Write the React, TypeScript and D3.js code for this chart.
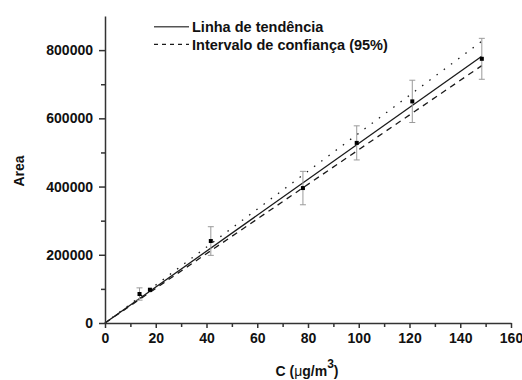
import { useEffect, useRef } from 'react'
import * as d3 from 'd3'

// measured points (concentration, area, error)
const concentrations = [13.6, 17.7, 41.7, 78.0, 99.2, 121.1, 148.5]
const areas = [85000, 97600, 240300, 395600, 528000, 649700, 774500]
const errors = [18000, 0, 42000, 49000, 50000, 62000, 60000]

// fitted lines, all through the origin
const lineEndC = 148.5
const trendEnd = 782000
const upperEnd = 826000
const lowerEnd = 754600

const xTicks = [0, 20, 40, 60, 80, 100, 120, 140, 160]
const yTicks = [0, 200000, 400000, 600000, 800000]

const legendLabels = ['Linha de tendência', 'Intervalo de confiança (95%)']

const W = 522
const H = 380
const FONT = '"Liberation Sans", Arial, sans-serif'

export default function App() {
  const ref = useRef<SVGSVGElement>(null)

  useEffect(() => {
    if (!ref.current) return
    const svg = d3.select(ref.current)
    svg.selectAll('*').remove()

    const left = 105
    const right = 511
    const bottom = 323
    const top = 16

    const x = d3.scaleLinear().domain([0, 160]).range([left, right])
    const y = d3.scaleLinear().domain([0, 900000]).range([bottom, top])

    const axisColor = '#333'

    // Fit lines
    const fits: { end: number; dash: string | null; width: number }[] = [
      { end: upperEnd, dash: '1.5,7.5', width: 1.3 },
      { end: lowerEnd, dash: '6,5', width: 1.3 },
      { end: trendEnd, dash: null, width: 1.3 },
    ]
    const line = d3.line<[number, number]>().x(d => x(d[0])).y(d => y(d[1]))
    fits.forEach(f => {
      svg.append('path')
        .datum([[0, 0], [lineEndC, f.end]] as [number, number][])
        .attr('fill', 'none')
        .attr('stroke', '#1a1a1a')
        .attr('stroke-width', f.width)
        .attr('stroke-dasharray', f.dash)
        .attr('d', line)
    })

    // Error bars
    const pts = concentrations.map((c, i) => ({ c, a: areas[i], e: errors[i] }))
    const eb = svg.append('g').attr('stroke', '#9a9a9a').attr('stroke-width', 1)
    pts.filter(p => p.e > 0).forEach(p => {
      const px = x(p.c)
      eb.append('line').attr('x1', px).attr('x2', px).attr('y1', y(p.a - p.e)).attr('y2', y(p.a + p.e))
      eb.append('line').attr('x1', px - 3).attr('x2', px + 3).attr('y1', y(p.a - p.e)).attr('y2', y(p.a - p.e))
      eb.append('line').attr('x1', px - 3).attr('x2', px + 3).attr('y1', y(p.a + p.e)).attr('y2', y(p.a + p.e))
    })

    // Points
    svg.append('g')
      .selectAll('rect')
      .data(pts)
      .join('rect')
      .attr('x', d => x(d.c) - 2)
      .attr('y', d => y(d.a) - 2)
      .attr('width', 4)
      .attr('height', 4)
      .attr('fill', '#000')

    const styleAxis = (g: d3.Selection<SVGGElement, unknown, null, undefined>) => {
      g.select('.domain').attr('stroke', axisColor).attr('stroke-width', 1.5)
      g.selectAll('.tick line').attr('stroke', axisColor).attr('stroke-width', 1.5)
      g.selectAll('.tick text')
        .attr('fill', '#111')
        .style('font-family', FONT)
        .style('font-weight', 'bold')
        .style('font-size', '14px')
    }

    // X axis minor + major
    const xg = svg.append('g').attr('transform', `translate(0,${bottom})`)
    xg.append('g')
      .call(d3.axisBottom(x).tickValues(d3.range(10, 160, 20)).tickSize(4).tickFormat(() => '').tickSizeOuter(0))
      .call(g => g.select('.domain').remove())
      .call(g => g.selectAll('.tick line').attr('stroke', axisColor).attr('stroke-width', 1.5))
    xg.append('g')
      .call(d3.axisBottom(x).tickValues(xTicks).tickSize(5).tickPadding(5).tickSizeOuter(0).tickFormat(d => String(d)))
      .call(styleAxis)

    // Y axis minor + major
    const yg = svg.append('g').attr('transform', `translate(${left},0)`)
    yg.append('g')
      .call(d3.axisLeft(y).tickValues(d3.range(100000, 900000, 200000)).tickSize(4).tickFormat(() => '').tickSizeOuter(0))
      .call(g => g.select('.domain').remove())
      .call(g => g.selectAll('.tick line').attr('stroke', axisColor).attr('stroke-width', 1.5))
    yg.append('g')
      .call(d3.axisLeft(y).tickValues(yTicks).tickSize(6).tickPadding(6).tickSizeOuter(0).tickFormat(d => String(d)))
      .call(styleAxis)

    // Axis titles
    svg.append('text')
      .attr('transform', `translate(23.5,171) rotate(-90)`)
      .attr('text-anchor', 'middle')
      .style('font-family', FONT)
      .style('font-weight', 'bold')
      .style('font-size', '14px')
      .attr('fill', '#111')
      .text('Area')

    const xt = svg.append('text')
      .attr('x', 307)
      .attr('y', 376)
      .attr('text-anchor', 'middle')
      .style('font-family', FONT)
      .style('font-weight', 'bold')
      .style('font-size', '14px')
      .attr('fill', '#111')
    xt.append('tspan').text('C (')
    xt.append('tspan').style('font-weight', 'normal').text('μ')
    xt.append('tspan').text('g/m')
    xt.append('tspan').attr('dy', -8).style('font-size', '12px').text('3')
    xt.append('tspan').attr('dy', 8).text(')')

    // Legend
    const legend = svg.append('g')
    legendLabels.forEach((label, i) => {
      const ly = 26.7 + i * 17.6
      legend.append('line')
        .attr('x1', 154).attr('x2', 189)
        .attr('y1', ly).attr('y2', ly)
        .attr('stroke', i === 0 ? '#555' : '#1a1a1a')
        .attr('stroke-width', i === 0 ? 1.5 : 1.2)
        .attr('stroke-dasharray', i === 0 ? null : '4,4')
      legend.append('text')
        .attr('x', 192)
        .attr('y', ly + 5.3)
        .style('font-family', FONT)
        .style('font-weight', 'bold')
        .style('font-size', '14.5px')
        .attr('fill', '#111')
        .text(label)
    })
  }, [])

  return (
    <svg
      ref={ref}
      width={W}
      height={H}
      style={{ position: 'absolute', left: 0, top: 0, background: '#fff' }}
    />
  )
}
